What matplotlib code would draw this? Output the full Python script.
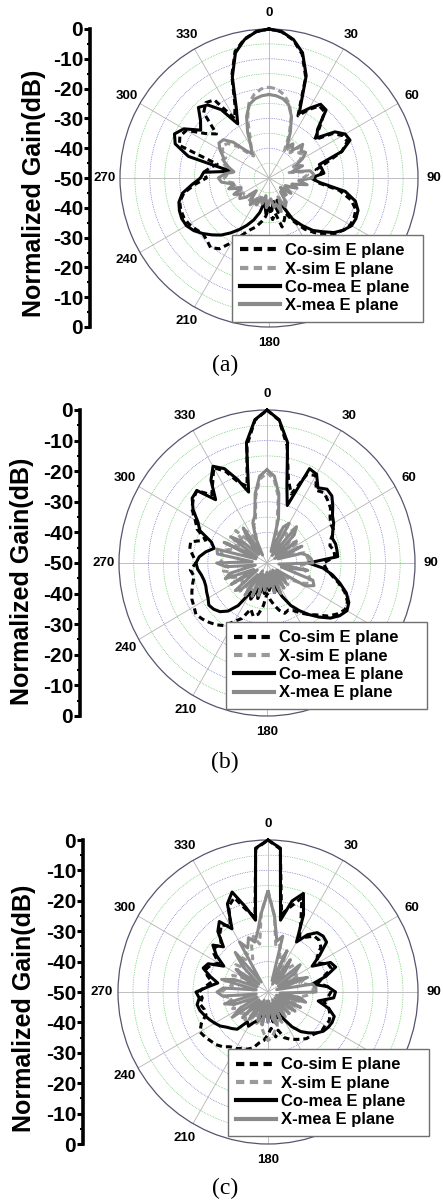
import numpy as np
import matplotlib
matplotlib.use("Agg")
import matplotlib.pyplot as plt

W, H = 443, 1201

# angles (deg, clockwise from top) at which the patterns were read
angle_deg = np.arange(0, 360, 5)

# ---- panel (a), normalized gain in dB, 0..355 deg every 5 deg
co_sim_a = [0, -0.8, -3, -7, -14, -27, -23.5, -20.5, -21, -26, -30, -24,
            -21.5, -21, -24, -30, -34, -32, -35, -34, -26, -21.5, -19, -18.5,
            -18.5, -19.5, -21, -23.5, -26, -29, -33, -37, -35, -33, -38, -36,
            -40, -37, -35, -33, -31.5, -29, -25, -21, -19.5, -20.5, -21, -20,
            -19, -18.5, -18.5, -19, -21, -25, -29, -28, -30, -32, -18, -17,
            -18, -24, -27, -19, -17, -18, -27, -23, -13.5, -6, -2.6, -0.7]
x_sim_a = [-19.5, -20, -21.5, -24, -28, -34, -40, -37, -39, -35, -37, -36,
           -38, -41, -39, -43, -38, -37, -38.5, -39, -38.8, -42, -40, -43,
           -44, -42, -45, -41, -43, -40, -41, -43, -39, -42, -40, -42,
           -41, -43, -40, -44, -41, -43, -40, -42, -39, -43, -41, -40,
           -40, -38, -41, -37, -39, -36, -35, -36, -38, -35, -33, -34,
           -32, -31, -32, -35, -39, -41, -38, -35, -29, -24, -21.5, -20]
co_mea_a = [0, -0.7, -2.8, -6.5, -13.5, -26, -23, -19.8, -20.2, -27, -29, -23,
            -20.5, -20, -24, -32.5, -32, -31.5, -36, -33, -24, -20, -18.2, -17.8,
            -18, -19.5, -21.5, -24.5, -27, -30.5, -34, -40, -42, -38, -42, -39,
            -40, -38, -42, -38, -35, -32.5, -30, -27.5, -25, -23, -21, -19.2,
            -18, -17.7, -18, -18.7, -20.5, -24, -27, -28, -37, -22, -16.5, -15,
            -17, -22, -20, -16.5, -18, -22, -29, -24, -14, -6.5, -2.8, -0.7]
x_mea_a = [-22, -22.3, -23, -24.5, -28, -33, -38, -36, -38, -34, -36, -35,
           -37, -40, -38, -42, -36, -35, -35.5, -40, -37, -42, -40, -44,
           -43, -41, -45, -42, -44, -40, -39, -42, -38, -41, -40, -43,
           -42, -40, -44, -41, -43, -40, -42, -39, -41, -44, -40, -38,
           -39, -37, -40, -36, -38, -34, -33, -35, -38, -36, -34, -33,
           -31, -29.5, -30, -33, -38, -40, -38, -33, -28, -24.5, -23, -22.3]

# ---- panel (b)
co_sim_b = [0, -3.2, -11, -22, -26, -18, -17, -21, -20, -21, -22, -24,
            -25, -25, -27, -28, -27, -27, -31, -30, -28, -25, -22, -20,
            -19.5, -21, -23, -26, -28, -30, -32, -33, -32.5, -34, -36, -38,
            -40, -36, -33, -32, -34, -30, -28, -25, -23.6, -22.5, -21.5, -20.7,
            -21.5, -22, -23, -24, -25, -24, -26, -25, -23.5, -23.3, -28, -24,
            -22, -19, -17.5, -16.5, -21, -18, -14, -17, -22, -24, -11, -3.2]
x_sim_b = [-20.5, -22.5, -28, -37, -41, -38, -36, -39, -35, -38, -41, -37,
           -40, -38, -43, -37, -36.5, -36, -36, -39, -37, -35.5, -34.5, -34,
           -37, -41, -44, -40, -43, -41, -44, -40, -43, -41, -45, -42,
           -44, -40, -42, -38, -41, -37, -40, -38, -41, -37, -39, -40,
           -37, -39, -36, -38, -35, -37, -34, -35, -34.5, -34, -37, -35,
           -39, -36, -40, -35, -41, -37, -39, -42, -37, -35, -28, -22.5]
co_mea_b = [0, -3, -10, -24, -30, -16, -16.5, -20, -18.5, -19, -21, -23,
            -24, -25.5, -26.5, -26, -26, -26, -36, -31, -27.5, -24.5, -21.5, -19.5,
            -18.8, -20, -22, -25, -28, -31, -34, -38, -42, -40, -44, -41,
            -44, -40, -43, -38, -41, -37, -39, -33, -29.5, -27.5, -26.5, -26,
            -27, -27.5, -28, -28, -27.5, -26.5, -26, -27, -29, -31.5, -30, -25,
            -23, -19.5, -17, -16.5, -23, -17, -13.5, -16, -21, -26, -10, -3]
x_mea_b = [-19.5, -21.5, -27, -35, -46, -37, -35, -47, -34.5, -37, -46, -38,
           -47, -37, -46, -38, -36, -35, -34.5, -46, -36, -45, -33.5, -32.5,
           -35, -46, -43, -41, -47, -40, -46, -39, -47, -40, -46, -42,
           -47, -41, -46, -39, -46, -38, -47, -37, -45, -38, -36, -46,
           -36, -45, -35, -37, -46, -36, -33, -45, -33, -32.5, -46, -34,
           -46, -35, -39, -46, -40, -36, -47, -41, -36, -34, -27, -21.5]

# ---- panel (c)
co_sim_c = [0, -2.8, -24, -21, -17, -24, -29, -28, -26, -25.9, -27, -30,
            -31, -28, -27.5, -31, -33, -30, -29, -30, -31, -29, -28, -27.5,
            -28, -28, -29, -29.7, -30, -31, -32, -32.9, -34, -37, -35, -38,
            -36, -34, -33, -31, -30, -29.5, -28.5, -28, -26.5, -25.5, -25, -24.3,
            -23.8, -25.5, -28, -28, -27, -28, -27, -29, -31, -29, -28, -29,
            -31, -28, -27, -28, -25, -23, -25, -19, -17, -22, -25, -2.8]
x_sim_c = [-16.5, -25, -35, -34, -39, -36, -41, -38, -40, -37, -37, -40,
           -38, -41, -37, -39, -36, -35, -35, -37, -40, -38, -42, -39,
           -41, -40, -42, -41, -43, -40, -42, -39, -41, -38, -37, -35,
           -34, -36, -38, -41, -39, -42, -40, -41, -38, -40, -39, -38,
           -40, -37, -39, -36, -38, -35, -34.5, -36, -38, -35, -39, -37,
           -41, -38, -36, -39, -34, -37, -35, -38, -34, -31, -34, -24]
co_mea_c = [0, -2.5, -26, -19, -15.5, -22, -31, -27, -24.5, -24, -24.5, -29,
            -33, -27, -26, -30, -35, -30, -27.5, -28, -33, -29, -26.5, -26.4,
            -26.8, -27.5, -29, -31, -33, -36, -40, -43, -41, -44, -40, -43,
            -42, -44, -41, -43, -40, -39, -37, -38, -34, -33, -32, -30.5,
            -29.5, -28.5, -27.5, -26.5, -26, -27, -26, -30, -33, -30, -27, -28,
            -33, -29, -26, -29, -24, -21.7, -26, -18, -15, -21, -26, -2.5]
x_mea_c = [-17, -25, -33, -31, -46, -35, -47, -37, -41, -46, -36, -39,
           -46, -40, -36, -47, -35, -34, -34, -46, -39, -37, -47, -38,
           -46, -39, -47, -40, -46, -41, -47, -40, -46, -39, -41, -47,
           -40, -47, -39, -46, -40, -47, -41, -39, -46, -38, -46, -35.5,
           -39, -46, -38, -35, -46, -34.8, -33, -35, -46, -34, -38, -46,
           -40, -37, -46, -38, -33, -46, -31, -34, -31, -33, -30, -24]

series_labels = ["Co-sim E plane", "X-sim E plane", "Co-mea E plane", "X-mea E plane"]
gain_ticks = [0, -10, -20, -30, -40, -50, -40, -30, -20, -10, 0]
spoke_angles = [0, 30, 60, 90, 120, 150, 180, 210, 240, 270, 300, 330]
# 120 and 150 sit under the legend box in the original
shown_angles = [0, 30, 60, 90, 180, 210, 240, 270, 300, 330]
ring_levels = [-45, -40, -35, -30, -25, -20, -15, -10, -5]
captions = ["(a)", "(b)", "(c)"]

# layout in pixels of the reference picture
centers = [(269, 178), (267, 563), (268, 992)]
radii = [(149, 149), (148, 153), (150, 152)]
axis_x = [90, 80, 83]
label_pos = [(34, 193), (22, 581), (24, 1008)]
legend_box = [(232, 235, 191), (226, 622, 201), (228, 1049, 201)]
caption_y = [365, 762, 1188]

panels = [
    (co_sim_a, x_sim_a, co_mea_a, x_mea_a),
    (co_sim_b, x_sim_b, co_mea_b, x_mea_b),
    (co_sim_c, x_sim_c, co_mea_c, x_mea_c),
]
styles = [
    dict(color="black", ls=(0, (2.0, 1.3)), lw=2.2),
    dict(color="#9a9a9a", ls=(0, (2.0, 1.3)), lw=2.2),
    dict(color="black", ls="-", lw=2.2),
    dict(color="#8a8a8a", ls="-", lw=2.2),
]

plt.rcParams["font.family"] = ["Liberation Sans", "DejaVu Sans"]
fig = plt.figure(figsize=(W / 100, H / 100), dpi=100)

theta = np.deg2rad(np.append(angle_deg, 360))
circle = np.linspace(0, 2 * np.pi, 361)

for i, curves in enumerate(panels):
    cx, cy = centers[i]
    rx, ry = radii[i]
    ax = fig.add_axes([(cx - rx) / W, 1 - (cy + ry) / H, 2 * rx / W, 2 * ry / H],
                      projection="polar")
    ax.set_aspect("auto")
    ax.set_theta_zero_location("N")
    ax.set_theta_direction(-1)
    ax.set_ylim(-50, 0)
    ax.set_yticks([])
    ax.set_xticks(np.deg2rad(spoke_angles))
    ax.set_xticklabels([])
    ax.xaxis.grid(True, color="#b4b4b4", lw=0.6, ls="-")
    ax.spines["polar"].set_color("#555570")
    ax.spines["polar"].set_linewidth(0.9)
    for k, lev in enumerate(ring_levels):
        col = "#44bb44" if k % 2 == 0 else "#5555bb"
        ax.plot(circle, np.full_like(circle, lev), color=col, lw=0.5,
                ls=(0, (1, 1.5)), zorder=1)
    for a in shown_angles:
        ax.text(np.deg2rad(a), 5.3, str(a), ha="center", va="center",
                fontsize=9.5, fontweight="bold", clip_on=False, zorder=3)

    handles = []
    for vals, st in zip(curves, styles):
        v = np.append(vals, vals[0])
        h, = ax.plot(theta, v, color=st["color"], ls=st["ls"], lw=st["lw"],
                     zorder=4, clip_on=False)
        handles.append(h)

    lx, ly, lw_ = legend_box[i]
    leg = ax.legend(handles, series_labels, loc="upper left", mode="expand",
                    bbox_to_anchor=(lx / W, 1 - ly / H - 0.1, lw_ / W, 0.1),
                    bbox_transform=fig.transFigure,
                    borderaxespad=0, fancybox=False, framealpha=1, edgecolor="#707070",
                    borderpad=0.5, labelspacing=0.2, handlelength=2.4, handletextpad=0.3,
                    prop=dict(weight="bold", size=12))
    leg.get_frame().set_linewidth(1.0)
    leg.set_zorder(10)
    for lh in leg.get_lines():
        lh.set_linewidth(3)

    # left gain scale
    top, bot = cy - ry, cy + ry
    gx = fig.add_axes([axis_x[i] / W, 1 - bot / H, 0.002, (bot - top) / H])
    gx.set_ylim(-50, 50)
    gx.set_yticks(np.linspace(50, -50, len(gain_ticks)))
    gx.set_yticklabels([str(t) for t in gain_ticks], fontsize=15, fontweight="bold")
    gx.set_yticks(np.linspace(50, -50, 2 * len(gain_ticks) - 1), minor=True)
    gx.set_xticks([])
    for s in ["top", "right", "bottom"]:
        gx.spines[s].set_visible(False)
    gx.spines["left"].set_linewidth(2.6)
    gx.tick_params(axis="y", which="major", direction="out", length=4, width=2.2, pad=1)
    gx.tick_params(axis="y", which="minor", direction="out", length=2, width=1.5)
    gx.patch.set_visible(False)

    fig.text(label_pos[i][0] / W, 1 - label_pos[i][1] / H, "Normalized Gain(dB)",
             rotation=90, ha="center", va="center", fontsize=18, fontweight="bold")
    fig.text(225 / W, 1 - caption_y[i] / H, captions[i], ha="center", va="center",
             fontsize=17, family="Liberation Serif")

fig.savefig("out.png", dpi=100)
